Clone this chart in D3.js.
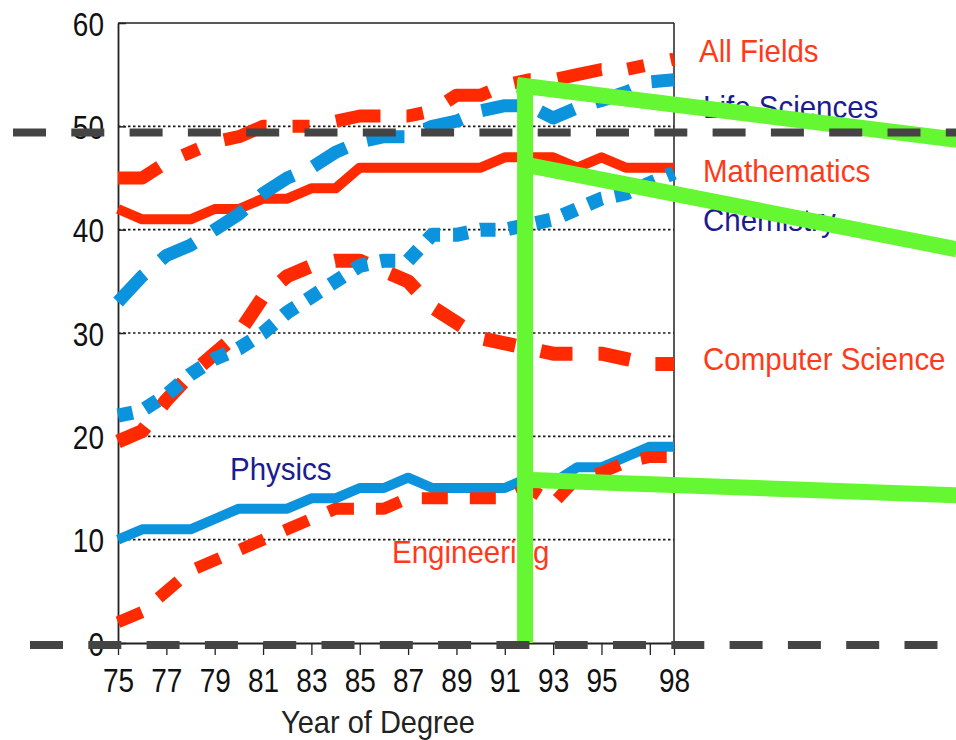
<!DOCTYPE html>
<html>
<head>
<meta charset="utf-8">
<script src="https://cdn.jsdelivr.net/npm/d3@7"></script>
<style>
  html, body { margin: 0; padding: 0; background: #fff; }
  svg { display: block; font-family: "Liberation Sans", Arial, sans-serif; }
</style>
</head>
<body>
<svg id="chart" width="956" height="740"></svg>
<script>
(function () {
// ---------------- data ----------------
const years = [75,76,77,78,79,80,81,82,83,84,85,86,87,88,89,90,91,92,93,94,95,96,97,98];
const allFields      = [45,45,46.5,47.5,48.5,49,50,50,50,50.5,51,51,51,51.5,53,53,54,54.5,54.5,55,55.5,55.5,56,56.5];
const lifeSciences   = [33,35.5,37.5,38.5,40,41.5,43.5,45,46,47.5,48.5,49,49,50,50.5,51.5,52,52,50.8,51.8,52.5,53.3,54.3,54.5];
const mathematics    = [42,41,41,41,42,42,43,43,44,44,46,46,46,46,46,46,47,47,47,46,47,46,46,46];
const chemistry      = [22,22.5,24,26,27.5,28.5,30,32,33.5,35,36.5,37,37,39.5,39.5,40,40,40.5,41,42,43,43.5,44.5,45.5];
const computerScience= [19.5,20.5,23.5,26,28,30,33.5,35.5,36.5,37,37,36,35,32.5,31,29.5,29,28.5,28,28,28,27.5,27,27];
const physics        = [10,11,11,11,12,13,13,13,14,14,15,15,16,15,15,15,15,16,15.5,17,17,18,19,19];
const engineering    = [2,3,5,7,8,9,10,11,12,13,13,13,14,14,14,14,14,15,13.5,16,16.5,17.5,18,18];

const yTicks = [0,10,20,30,40,50,60];
const xTicks = [75,77,79,81,83,85,87,89,91,93,95,97,98];
const xTickLabels = ["75","77","79","81","83","85","87","89","91","93","95","","98"];
const seriesNames = ["All Fields","Life Sciences","Mathematics","Chemistry","Computer Science","Physics","Engineering"];
const xTitle = "Year of Degree";

// annotation overlay (in data units)
const greyDashValues = [49.4, -0.2];
const greenSegments = [
  [[91.84, 0], [91.84, 54.5]],
  [[91.5, 54.0], [109.7, 48.7]],
  [[91.84, 46.3], [109.7, 38.1]],
  [[91.84, 15.8], [109.7, 14.3]]
];

// ---------------- styles ----------------
const RED = "#ff2a00", BLUE = "#0b93de", NAVY = "#1c1c8e", TXTRED = "#ff3a1a";
const svg = d3.select("#chart");
const W = 956;
const pLeft = 118, pRight = 674, pTop = 23, pBottom = 643;

const x = d3.scaleLinear().domain([75, 98]).range([pLeft, pRight]);
const y = d3.scaleLinear().domain([0, 60]).range([pBottom, pTop]);

// gridlines
svg.append("g").selectAll("line").data(yTicks.filter(v => v > 0 && v < 60)).join("line")
  .attr("x1", pLeft).attr("x2", pRight)
  .attr("y1", d => y(d)).attr("y2", d => y(d))
  .attr("stroke", "#1a1a1a").attr("stroke-width", 1.6).attr("stroke-dasharray", "2.5,2.5");

// frame
svg.append("line").attr("x1", pLeft).attr("x2", pRight).attr("y1", pTop).attr("y2", pTop)
  .attr("stroke", "#222").attr("stroke-width", 1.5);
svg.append("line").attr("x1", pRight).attr("x2", pRight).attr("y1", pTop).attr("y2", pBottom)
  .attr("stroke", "#222").attr("stroke-width", 1.5);

// x axis
const xAxis = d3.axisBottom(x).tickValues(xTicks).tickSize(12).tickSizeOuter(0)
  .tickFormat((d, i) => xTickLabels[i]);
const gx = svg.append("g").attr("transform", `translate(0,${pBottom})`).call(xAxis);
gx.select(".domain").attr("stroke", "#222").attr("stroke-width", 1.8);
gx.selectAll(".tick line").attr("stroke", "#222").attr("stroke-width", 1.3);
gx.selectAll(".tick text")
  .attr("x", 0).attr("y", 0).attr("dy", 0)
  .attr("transform", "translate(0,49) scale(1,1.2)")
  .attr("font-size", 28).attr("fill", "#111")
  .attr("font-family", '"Liberation Sans", Arial, sans-serif');

// y axis
const yAxis = d3.axisLeft(y).tickValues(yTicks).tickSize(-8).tickSizeOuter(0).tickPadding(14);
const gy = svg.append("g").attr("transform", `translate(${pLeft},0)`).call(yAxis);
gy.select(".domain").attr("stroke", "#222").attr("stroke-width", 1.8);
gy.selectAll(".tick line").attr("stroke", "#222").attr("stroke-width", 1.5);
gy.selectAll(".tick text")
  .attr("x", 0).attr("y", 0).attr("dy", 0)
  .attr("transform", "translate(-14,12) scale(1,1.2)")
  .attr("font-size", 28).attr("fill", "#111")
  .attr("font-family", '"Liberation Sans", Arial, sans-serif');

// axis title
svg.append("text").attr("transform", "translate(378,733) scale(1,1.07)")
  .attr("text-anchor", "middle").attr("font-size", 29).attr("fill", "#222").text(xTitle);

// series
const series = [
  { name: seriesNames[0], values: allFields,       color: RED,  width: 13, dash: "45,26,17,27" },
  { name: seriesNames[2], values: mathematics,     color: RED,  width: 10, dash: null },
  { name: seriesNames[4], values: computerScience, color: RED,  width: 14, dash: "32,26" },
  { name: seriesNames[1], values: lifeSciences,    color: BLUE, width: 13, dash: "38,22" },
  { name: seriesNames[3], values: chemistry,       color: BLUE, width: 14, dash: "15,13" },
  { name: seriesNames[5], values: physics,         color: BLUE, width: 10, dash: null },
  { name: seriesNames[6], values: engineering,     color: RED,  width: 12, dash: "26,22" }
];
const line = d3.line().x((d, i) => x(years[i])).y(d => y(d));
svg.append("g").selectAll("path").data(series).join("path")
  .attr("d", d => line(d.values))
  .attr("fill", "none")
  .attr("stroke", d => d.color)
  .attr("stroke-width", d => d.width)
  .attr("stroke-dasharray", d => d.dash)
  .attr("stroke-linejoin", "round")
  .attr("stroke-linecap", "butt");

// series labels
const labelPos = {
  "All Fields":       [699, 62,  TXTRED],
  "Life Sciences":    [703, 118, NAVY],
  "Mathematics":      [703, 182, TXTRED],
  "Chemistry":        [703, 231, NAVY],
  "Computer Science": [703, 370, TXTRED],
  "Physics":          [230, 480, NAVY],
  "Engineering":      [392, 563, TXTRED]
};
svg.append("g").selectAll("text").data(seriesNames).join("text")
  .attr("transform", d => `translate(${labelPos[d][0]},${labelPos[d][1]}) scale(1,1.07)`)
  .attr("font-size", 29.5).attr("fill", d => labelPos[d][2]).text(d => d);

// annotation overlay: green strokes
svg.append("g").selectAll("line").data(greenSegments).join("line")
  .attr("x1", d => x(d[0][0])).attr("y1", d => y(d[0][1]))
  .attr("x2", d => x(d[1][0])).attr("y2", d => y(d[1][1]))
  .attr("stroke", "#66f733").attr("stroke-width", 16).attr("stroke-linecap", "butt");

// annotation overlay: grey dashed lines
svg.append("g").selectAll("line").data(greyDashValues).join("line")
  .attr("x1", (d, i) => i === 0 ? 13 : 30).attr("x2", W)
  .attr("y1", d => y(d)).attr("y2", d => y(d))
  .attr("stroke", "#444").attr("stroke-width", 8).attr("stroke-dasharray", "33,25.3");
})();
</script>
</body>
</html>
